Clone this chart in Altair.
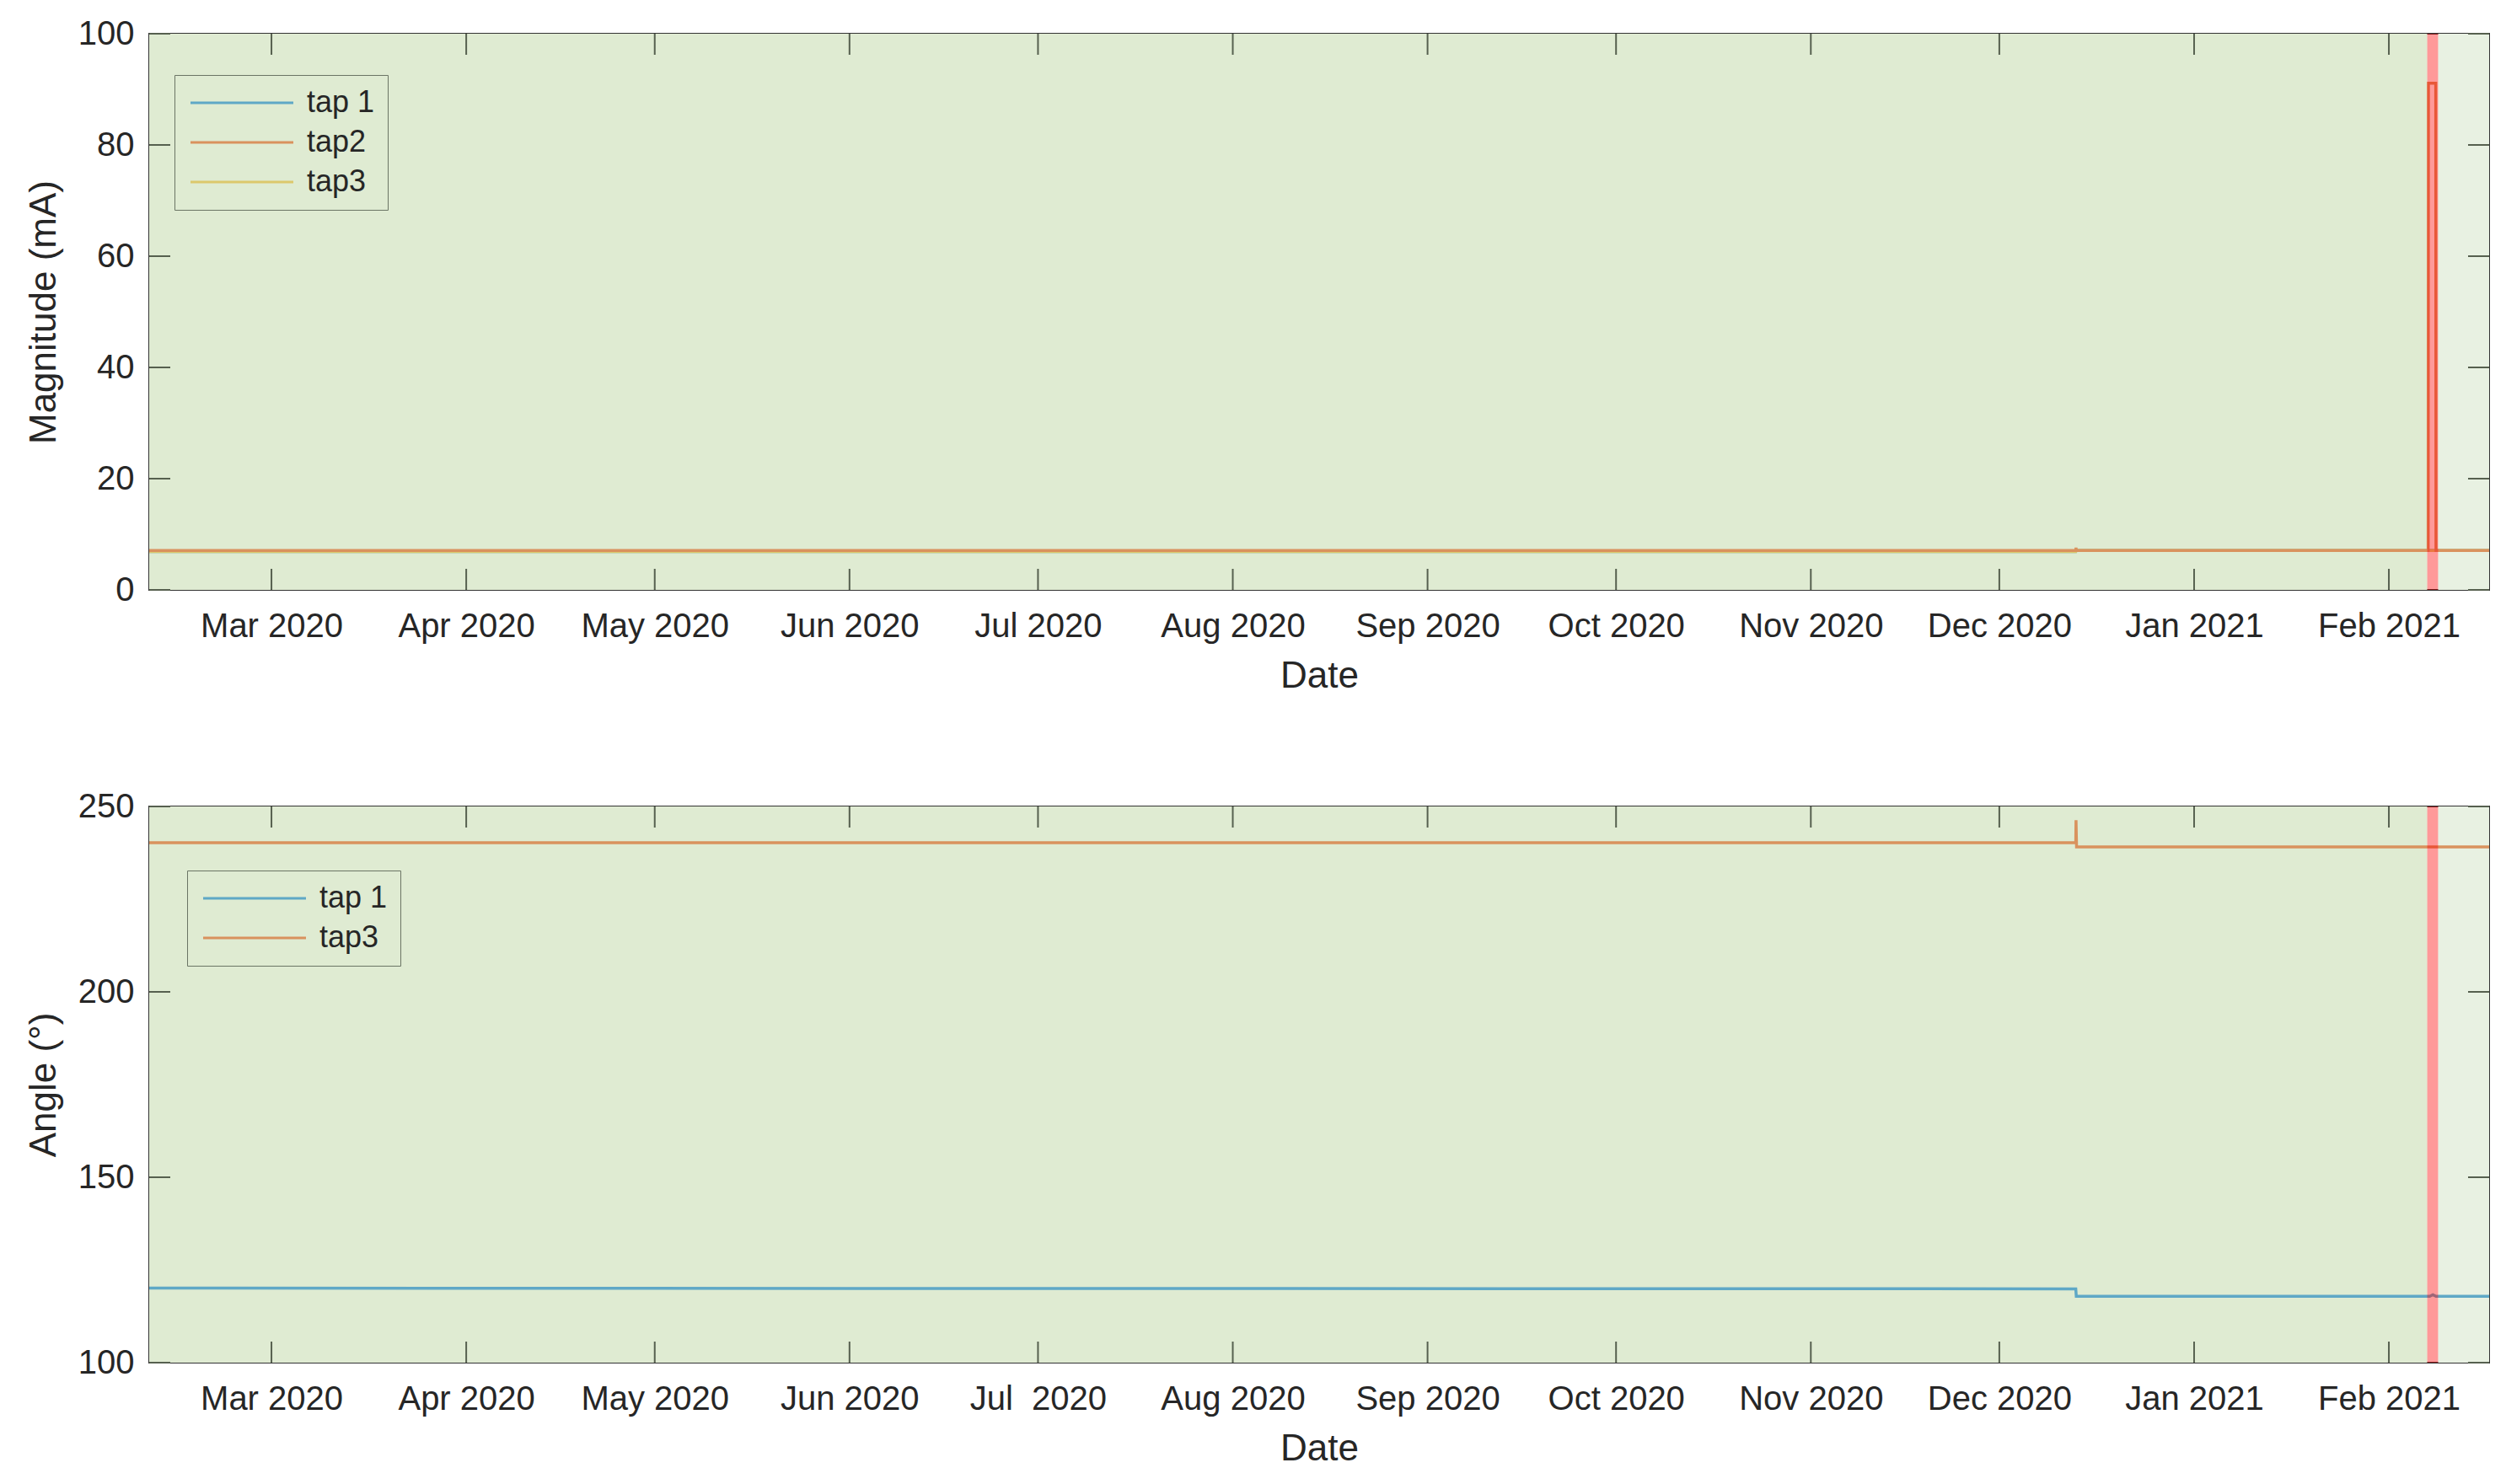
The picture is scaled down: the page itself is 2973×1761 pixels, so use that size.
import altair as alt
import pandas as pd

FONT = "Liberation Sans"
TEXT = "#262626"
GREEN = "#dfebd2"
LIGHT = "#e8f1e2"
TICK = "#56604f"

# ---------------- data ----------------
X_START = "2020-02-10T13:00:00"
X_END = "2021-02-16T23:00:00"
BAND_START = "2021-02-07T02:30:00"
BAND_END = "2021-02-08T20:00:00"

MONTH_TICKS = ["2020-03-01T00:00:00", "2020-04-01T00:00:00", "2020-05-01T00:00:00",
               "2020-06-01T00:00:00", "2020-07-01T00:00:00", "2020-08-01T00:00:00",
               "2020-09-01T00:00:00", "2020-10-01T00:00:00", "2020-11-01T00:00:00",
               "2020-12-01T00:00:00", "2021-01-01T00:00:00", "2021-02-01T00:00:00"]

MAG_TICKS = [0, 20, 40, 60, 80, 100]
ANG_TICKS = [100, 150, 200, 250]

# Magnitude (mA)
mag_tap1_dates = [X_START, "2020-12-13T04:00:00", "2020-12-13T06:00:00", X_END]
mag_tap1_values = [6.9, 6.9, 7.1, 7.1]
mag_tap2_dates = [X_START, "2020-12-13T04:00:00", "2020-12-13T05:00:00", "2020-12-13T06:00:00",
                  "2021-02-07T06:00:00", "2021-02-07T07:00:00", "2021-02-08T11:00:00",
                  "2021-02-08T12:00:00", X_END]
mag_tap2_values = [7.1, 7.1, 7.6, 7.1, 7.1, 91.1, 91.1, 7.1, 7.1]
mag_tap3_dates = [X_START, "2020-12-13T04:00:00", "2020-12-13T06:00:00", X_END]
mag_tap3_values = [6.9, 6.9, 7.1, 7.1]

# Angle (deg)
ang_tap1_dates = [X_START, "2020-12-13T04:00:00", "2020-12-13T06:00:00", "2021-02-07T12:00:00",
                  "2021-02-08T00:00:00", "2021-02-08T12:00:00", X_END]
ang_tap1_values = [120.1, 119.9, 117.9, 117.9, 118.3, 117.9, 117.9]
ang_tap3_dates = [X_START, "2020-12-13T04:00:00", "2020-12-13T05:00:00", "2020-12-13T07:00:00", X_END]
ang_tap3_values = [240.2, 240.2, 246.3, 239.1, 239.1]


def series(name, dates, values):
    return pd.DataFrame({"series": name, "date": dates, "value": values})


mag_df = pd.concat([series("tap 1", mag_tap1_dates, mag_tap1_values),
                    series("tap3", mag_tap3_dates, mag_tap3_values),
                    series("tap2", mag_tap2_dates, mag_tap2_values)], ignore_index=True)
ang_df = pd.concat([series("tap 1", ang_tap1_dates, ang_tap1_values),
                    series("tap3", ang_tap3_dates, ang_tap3_values)], ignore_index=True)


def dt(s):
    t = pd.Timestamp(s)
    return alt.DateTime(year=t.year, month=t.month, date=t.day, hours=t.hour, minutes=t.minute)


W, H = 2776, 660
TL = 25
SYM = 30            # nominal legend symbol box
LINE_LEN = 122      # legend line length
HALF = LINE_LEN / SYM
SYMBOL_PATH = f"M-{HALF:.3f},0H{HALF:.3f}"


def panel(df, cdomain, crange, ydomain, yticks, ytitle, lx, ly, label_expr=None):
    xs = alt.Scale(domain=[dt(X_START), dt(X_END)], nice=False)
    ys = alt.Scale(domain=ydomain, nice=False, zero=False)
    axis_kw = dict(values=[dt(m) for m in MONTH_TICKS], format="%b %Y", labelPadding=23,
                   titlePadding=17, labelOverlap=False, labelFlush=False)
    if label_expr:
        axis_kw["labelExpr"] = label_expr
    xaxis = alt.Axis(**axis_kw)
    yaxis = alt.Axis(values=yticks, labelPadding=18, titlePadding=18)

    bg_green = alt.Chart(pd.DataFrame({"s": [X_START], "e": [BAND_START]})).mark_rect(
        color=GREEN).encode(x=alt.X("s:T", scale=xs, axis=xaxis, title="Date"), x2="e:T")
    bg_light = alt.Chart(pd.DataFrame({"s": [BAND_END], "e": [X_END]})).mark_rect(
        color=LIGHT).encode(x=alt.X("s:T", scale=xs, title="Date"), x2="e:T")
    lines = alt.Chart(df).mark_line(strokeWidth=3.5).encode(
        x=alt.X("date:T", scale=xs, title="Date"),
        y=alt.Y("value:Q", scale=ys, axis=yaxis, title=ytitle),
        color=alt.Color("series:N", scale=alt.Scale(domain=cdomain, range=crange),
                        legend=alt.Legend(orient="none", legendX=lx, legendY=ly, title=None,
                                          symbolType=SYMBOL_PATH, symbolSize=SYM * SYM,
                                          symbolStrokeWidth=3, symbolOffset=47,
                                          labelFontSize=36, labelFont=FONT,
                                          labelColor=TEXT, strokeColor="#6b7565", fillColor=GREEN,
                                          padding=15, labelOffset=59, rowPadding=11)),
    )
    band = alt.Chart(pd.DataFrame({"s": [BAND_START], "e": [BAND_END]})).mark_rect(
        color="#ff0000", opacity=0.4).encode(x=alt.X("s:T", scale=xs, title="Date"), x2="e:T")
    tdf = pd.DataFrame({"m": MONTH_TICKS})
    xt_top = alt.Chart(tdf).mark_rule(color=TICK, strokeWidth=2).encode(
        x=alt.X("m:T", scale=xs, title="Date"), y=alt.value(0), y2=alt.value(TL))
    xt_bot = alt.Chart(tdf).mark_rule(color=TICK, strokeWidth=2).encode(
        x=alt.X("m:T", scale=xs, title="Date"), y=alt.value(H - TL), y2=alt.value(H))
    ydf = pd.DataFrame({"v": yticks})
    yt_l = alt.Chart(ydf).mark_rule(color=TICK, strokeWidth=2).encode(
        y=alt.Y("v:Q", scale=ys, title=ytitle), x=alt.value(0), x2=alt.value(TL))
    yt_r = alt.Chart(ydf).mark_rule(color=TICK, strokeWidth=2).encode(
        y=alt.Y("v:Q", scale=ys, title=ytitle), x=alt.value(W - TL), x2=alt.value(W))
    return alt.layer(bg_green, bg_light, lines, band, xt_top, xt_bot, yt_l, yt_r).properties(
        width=W, height=H)


BLUE = "#5fa8c6"
ORANGE = "#d9925e"
YELLOW = "#dcc86c"

top = panel(mag_df, ["tap 1", "tap2", "tap3"], [BLUE, ORANGE, YELLOW], [0, 100], MAG_TICKS,
            "Magnitude (mA)", 30, 49)
bottom = panel(ang_df, ["tap 1", "tap3"], [BLUE, ORANGE], [100, 250], ANG_TICKS,
               "Angle (\u00b0)", 45, 76,
               label_expr="datum.label == 'Jul 2020' ? 'Jul\u00a0\u00a02020' : datum.label")

chart = alt.vconcat(top, bottom, spacing=111).resolve_scale(
    color="independent", x="independent", y="independent"
).resolve_legend(color="independent").properties(
    padding={"left": 21, "top": 11, "right": 0, "bottom": 5}
).configure_view(stroke="#333333", strokeWidth=2, fill="white").configure_axis(
    labelFont=FONT, titleFont=FONT, labelFontSize=40, titleFontSize=44,
    labelColor=TEXT, titleColor=TEXT, ticks=False, domain=False, grid=False,
    titleFontWeight="normal"
)

chart.save("out.html", embed_options={"renderer": "svg", "actions": False})
